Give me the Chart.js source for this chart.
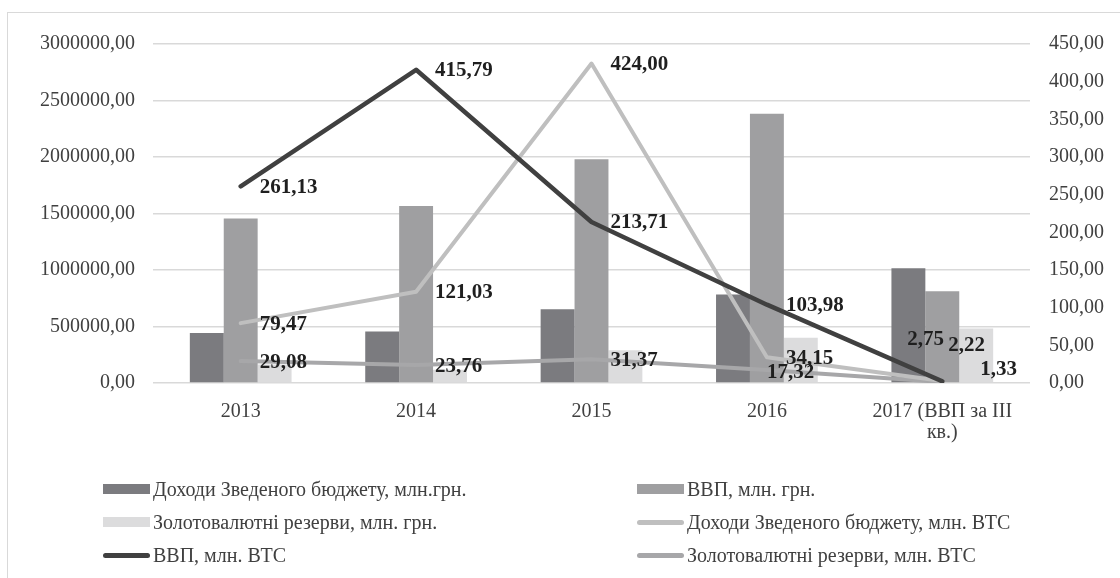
<!DOCTYPE html>
<html>
<head>
<meta charset="utf-8">
<script src="https://cdn.jsdelivr.net/npm/chart.js@4"></script>
<style>
  html, body { margin:0; padding:0; background:#fff; overflow:hidden; width:1120px; height:578px; }
  #frame { position:absolute; left:7px; top:12px; width:1300px; height:800px; border:1px solid #d9d9d9; box-sizing:border-box; }
  #wrap { position:absolute; left:0; top:0; width:1120px; height:578px; }
  #legend { position:absolute; left:103px; top:477px; display:grid; grid-template-columns:534px 460px; row-gap:9px;
            font-family:"Liberation Serif","Times New Roman",serif; font-size:20px; color:#404040; }
  .item { display:flex; align-items:center; height:24px; white-space:nowrap; }
  .sw { width:47px; height:10px; margin-right:3px; flex:none; }
  .ln { width:47px; height:5px; border-radius:3px; margin-right:3px; flex:none; }
</style>
</head>
<body>
<div id="frame"></div>
<div id="wrap"><canvas id="c" width="1120" height="578"></canvas></div>
<div id="legend"></div>
<script>
const categories = ["2013", "2014", "2015", "2016", ["2017 (ВВП за III", "кв.)"]];
const budgetUAH   = [442788, 456067, 652031, 782749, 1016000];
const gdpUAH      = [1454931, 1566728, 1979458, 2383182, 812000];
const reservesUAH = [163000, 118000, 290000, 400000, 483000];
const budgetBTC   = [79.47, 121.03, 424.00, 34.15, 2.75];
const gdpBTC      = [261.13, 415.79, 213.71, 103.98, 2.22];
const reservesBTC = [29.08, 23.76, 31.37, 17.32, 1.33];
const leftTicks = [0, 500000, 1000000, 1500000, 2000000, 2500000, 3000000];
const rightTicks = [0, 50, 100, 150, 200, 250, 300, 350, 400, 450];

const fmt = v => Number(v).toFixed(2).replace('.', ',');
const FONT = '"Liberation Serif","Times New Roman",serif';

// label offsets (style only): [datasetIndex][pointIndex] => [dx, dy]
const labelOffsets = {
  3: {4: [-35, -41]},
  4: {4: [6, -36]},
  5: {3: [0, 3], 4: [38, -12]}
};

const labelPlugin = {
  id: 'pointLabels',
  afterDatasetsDraw(chart) {
    const ctx = chart.ctx;
    ctx.save();
    ctx.font = 'bold 21px ' + FONT;
    ctx.fillStyle = '#1f1f1f';
    ctx.textAlign = 'left';
    ctx.textBaseline = 'middle';
    [3, 4, 5].forEach(di => {
      const meta = chart.getDatasetMeta(di);
      const data = chart.data.datasets[di].data;
      meta.data.forEach((pt, i) => {
        const off = (labelOffsets[di] && labelOffsets[di][i]) || [19, 1];
        ctx.fillText(fmt(data[i]), pt.x + off[0], pt.y + off[1]);
      });
    });
    ctx.restore();
  }
};

const datasets = [
  { type:'bar', label:'Доходи Зведеного бюджету, млн.грн.', data: budgetUAH, backgroundColor:'#7b7b7f', yAxisID:'y', order:2 },
  { type:'bar', label:'ВВП, млн. грн.', data: gdpUAH, backgroundColor:'#9f9fa1', yAxisID:'y', order:2 },
  { type:'bar', label:'Золотовалютні резерви, млн. грн.', data: reservesUAH, backgroundColor:'#dcdcdd', yAxisID:'y', order:2 },
  { type:'line', label:'Доходи Зведеного бюджету, млн. ВТС', data: budgetBTC, borderColor:'#bfbfbf', borderWidth:4, pointRadius:0, tension:0, yAxisID:'y1', order:1, borderCapStyle:'round', borderJoinStyle:'round' },
  { type:'line', label:'ВВП, млн. ВТС', data: gdpBTC, borderColor:'#404040', borderWidth:4.5, pointRadius:0, tension:0, yAxisID:'y1', order:0, borderCapStyle:'round', borderJoinStyle:'round' },
  { type:'line', label:'Золотовалютні резерви, млн. ВТС', data: reservesBTC, borderColor:'#a7a7a9', borderWidth:4, pointRadius:0, tension:0, yAxisID:'y1', order:1, borderCapStyle:'round', borderJoinStyle:'round' }
];

const chart = new Chart(document.getElementById('c'), {
  data: { labels: categories, datasets },
  plugins: [labelPlugin],
  options: {
    responsive: false,
    animation: false,
    devicePixelRatio: 1,
    layout: { padding: { top: 44, left: 0, right: 0, bottom: 0 } },
    datasets: { bar: { categoryPercentage: 0.58, barPercentage: 1.0 } },
    plugins: { legend: { display:false }, tooltip: { enabled:false } },
    scales: {
      x: {
        grid: { display:false },
        border: { display:false },
        ticks: { color:'#404040', font:{ family:FONT, size:20, lineHeight:1.05 }, padding:10, maxRotation:0, autoSkip:false },
        afterFit: s => { s.height = 195; }
      },
      y: {
        position:'left', min:0, max:3000000,
        afterBuildTicks: s => { s.ticks = leftTicks.map(v => ({value:v})); },
        grid: { color:'#d9d9d9', lineWidth:1.5, drawTicks:false },
        border: { display:false },
        ticks: { color:'#404040', font:{ family:FONT, size:20 }, padding:18, callback: v => fmt(v) },
        afterFit: s => { s.width = 153; }
      },
      y1: {
        position:'right', min:0, max:450,
        afterBuildTicks: s => { s.ticks = rightTicks.map(v => ({value:v})); },
        grid: { display:false },
        border: { display:false },
        ticks: { color:'#404040', font:{ family:FONT, size:20 }, padding:11, callback: v => fmt(v) },
        afterFit: s => { s.width = 90; }
      }
    }
  }
});

// HTML legend built from the chart datasets
const lg = document.getElementById('legend');
chart.data.datasets.forEach(ds => {
  const it = document.createElement('div');
  it.className = 'item';
  const sw = document.createElement('span');
  if (ds.type === 'bar') { sw.className = 'sw'; sw.style.background = ds.backgroundColor; }
  else { sw.className = 'ln'; sw.style.background = ds.borderColor; }
  const tx = document.createElement('span');
  tx.textContent = ds.label;
  it.appendChild(sw); it.appendChild(tx);
  lg.appendChild(it);
});
</script>
</body>
</html>
